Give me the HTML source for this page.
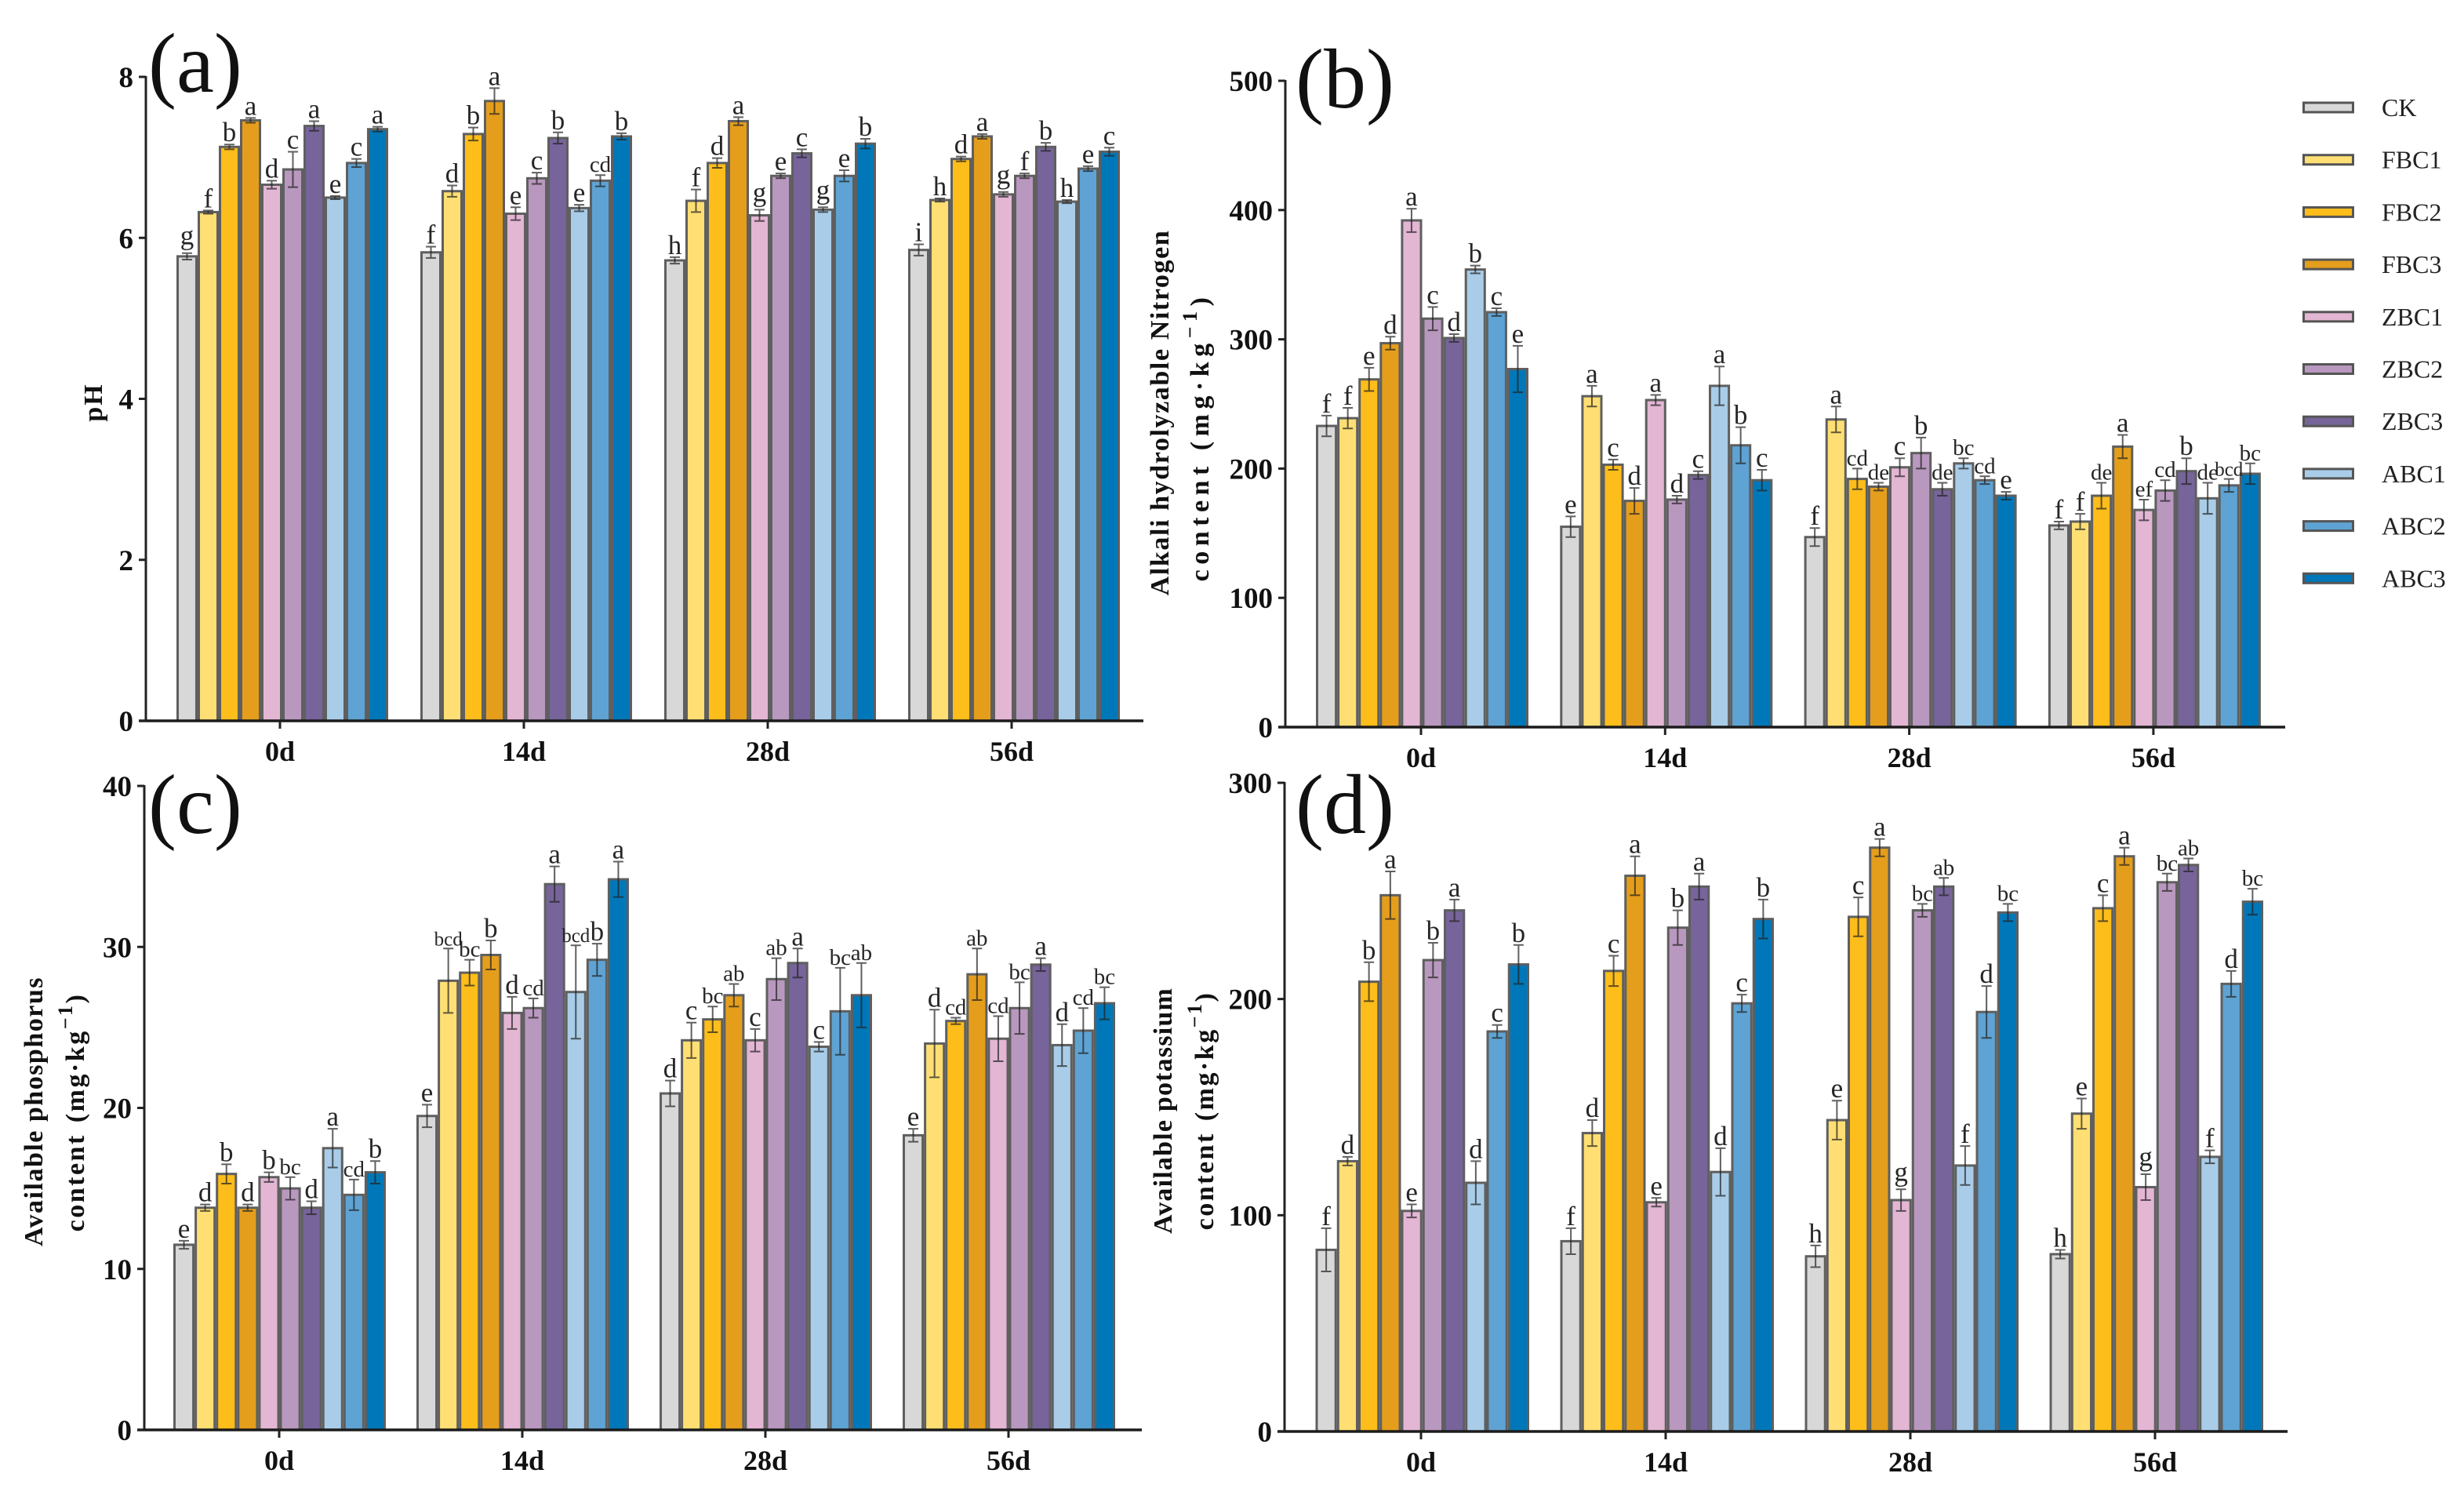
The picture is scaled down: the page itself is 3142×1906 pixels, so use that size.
<!DOCTYPE html>
<html lang="en">
<head>
<meta charset="utf-8">
<title>Soil properties bar charts</title>
<style>
html,body{margin:0;padding:0;background:#fff;}
svg{display:block;font-family:"Liberation Serif",serif;}
</style>
</head>
<body>
<svg id="figure" width="3142" height="1906" viewBox="0 0 3142 1906" xmlns="http://www.w3.org/2000/svg"></svg>
<script>
const days = ["0d", "14d", "28d", "56d"];
const treatments = ["CK", "FBC1", "FBC2", "FBC3", "ZBC1", "ZBC2", "ZBC3", "ABC1", "ABC2", "ABC3"];
const treatmentColors = ["#d8d8d8", "#ffdf73", "#fdbd1a", "#e59e1c", "#e3b6d4", "#b998bf", "#76649a", "#a9cde8", "#5ea3d3", "#0077b8"];

const phTicks = [0, 2, 4, 6, 8];
const phMeans = [
  [5.77, 6.32, 7.13, 7.46, 6.66, 6.85, 7.39, 6.50, 6.93, 7.35],
  [5.82, 6.58, 7.29, 7.70, 6.30, 6.74, 7.24, 6.37, 6.71, 7.26],
  [5.72, 6.46, 6.93, 7.45, 6.28, 6.77, 7.05, 6.35, 6.77, 7.17],
  [5.85, 6.47, 6.98, 7.26, 6.54, 6.77, 7.13, 6.45, 6.86, 7.07]
];
const phErrors = [
  [.04, .02, .03, .03, .05, .22, .06, .02, .05, .03],
  [.07, .07, .08, .16, .08, .07, .07, .04, .07, .04],
  [.04, .14, .06, .05, .07, .03, .05, .03, .07, .06],
  [.07, .02, .03, .03, .03, .03, .05, .02, .03, .05]
];
const phLetters = [
  ["g", "f", "b", "a", "d", "c", "a", "e", "c", "a"],
  ["f", "d", "b", "a", "e", "c", "b", "e", "cd", "b"],
  ["h", "f", "d", "a", "g", "e", "c", "g", "e", "b"],
  ["i", "h", "d", "a", "g", "f", "b", "h", "e", "c"]
];

const nitrogenTicks = [0, 100, 200, 300, 400, 500];
const nitrogenMeans = [
  [233, 239, 269, 297, 392, 316, 301, 354, 321, 277],
  [155, 256, 203, 175, 253, 176, 195, 264, 218, 191],
  [147, 238, 192, 186, 201, 212, 184, 204, 191, 179],
  [156, 159, 179, 217, 168, 183, 198, 177, 187, 196]
];
const nitrogenErrors = [
  [8, 8, 9, 5, 9, 9, 3, 3, 3, 18],
  [8, 8, 4, 10, 4, 3, 3, 15, 14, 8],
  [7, 10, 8, 3, 7, 12, 5, 4, 3, 3],
  [3, 6, 10, 9, 8, 8, 10, 12, 5, 8]
];
const nitrogenLetters = [
  ["f", "f", "e", "d", "a", "c", "d", "b", "c", "e"],
  ["e", "a", "c", "d", "a", "d", "c", "a", "b", "c"],
  ["f", "a", "cd", "de", "c", "b", "de", "bc", "cd", "e"],
  ["f", "f", "de", "a", "ef", "cd", "b", "de", "bcd", "bc"]
];

const phosphorusTicks = [0, 10, 20, 30, 40];
const phosphorusMeans = [
  [11.5, 13.8, 15.9, 13.8, 15.7, 15.0, 13.8, 17.5, 14.6, 16.0],
  [19.5, 27.9, 28.4, 29.5, 25.9, 26.2, 33.9, 27.2, 29.2, 34.2],
  [20.9, 24.2, 25.5, 27.0, 24.2, 28.0, 29.0, 23.8, 26.0, 27.0],
  [18.3, 24.0, 25.4, 28.3, 24.3, 26.2, 28.9, 23.9, 24.8, 26.5]
];
const phosphorusErrors = [
  [.25, .2, .6, .2, .3, .7, .4, 1.2, .95, .7],
  [.7, 2, .8, .9, 1, .6, 1.1, 2.9, 1, 1.1],
  [.8, 1.1, .8, .7, .7, 1.3, .9, .3, 2.7, 2],
  [.4, 2.1, .2, 1.6, 1.4, 1.6, .4, 1.3, 1.4, 1]
];
const phosphorusLetters = [
  ["e", "d", "b", "d", "b", "bc", "d", "a", "cd", "b"],
  ["e", "bcd", "bc", "b", "d", "cd", "a", "bcd", "b", "a"],
  ["d", "c", "bc", "ab", "c", "ab", "a", "c", "bc", "ab"],
  ["e", "d", "cd", "ab", "cd", "bc", "a", "d", "cd", "bc"]
];

const potassiumTicks = [0, 100, 200, 300];
const potassiumMeans = [
  [84, 125, 208, 248, 102, 218, 241, 115, 185, 216],
  [88, 138, 213, 257, 106, 233, 252, 120, 198, 237],
  [81, 144, 238, 270, 107, 241, 252, 123, 194, 240],
  [82, 147, 242, 266, 113, 254, 262, 127, 207, 245]
];
const potassiumErrors = [
  [10, 2, 9, 11, 3, 8, 5, 10, 3, 9],
  [6, 6, 7, 9, 2, 8, 6, 11, 4, 9],
  [5, 9, 9, 4, 5, 3, 4, 9, 12, 4],
  [2, 7, 6, 4, 6, 4, 3, 3, 6, 6]
];
const potassiumLetters = [
  ["f", "d", "b", "a", "e", "b", "a", "d", "c", "b"],
  ["f", "d", "c", "a", "e", "b", "a", "d", "c", "b"],
  ["h", "e", "c", "a", "g", "bc", "ab", "f", "d", "bc"],
  ["h", "e", "c", "a", "g", "bc", "ab", "f", "d", "bc"]
];

const SVG_NS = "http://www.w3.org/2000/svg";
const figure = document.getElementById("figure");

function make(parent, tag, props, text) {
  const node = document.createElementNS(SVG_NS, tag);
  for (const key in props) node.setAttribute(key, props[key]);
  if (text !== undefined) node.textContent = text;
  parent.appendChild(node);
  return node;
}

function drawPanel(cfg) {
  const panel = make(figure, "g", {});
  
  

  const yScale = v => cfg.y0 - (v / cfg.max) * (cfg.y0 - cfg.yTop);
  const xScale = (g, i) => cfg.barStart + g * cfg.pitch + i * cfg.barW;

  cfg.means.forEach((groupValues, g) => {
    groupValues.forEach((value, i) => {
      const bar = make(panel, "rect", {
        x: xScale(g, i) + 1.5,
        y: yScale(value),
        width: cfg.barW - 3,
        height: cfg.y0 - yScale(value),
        fill: treatmentColors[i],
        stroke: "#5f5f5f",
        "stroke-width": 3
      });
      
      
    });
  });

  cfg.means.forEach((groupValues, g) => {
    groupValues.forEach((value, i) => {
      const cx = xScale(g, i) + cfg.barW / 2;
      const top = yScale(value + cfg.errors[g][i]);
      const bottom = yScale(value - cfg.errors[g][i]);
      const err = make(panel, "path", {
        d: "M" + (cx - 6.5) + " " + top + "H" + (cx + 6.5) + "M" + cx + " " + top + "V" + bottom + "M" + (cx - 6.5) + " " + bottom + "H" + (cx + 6.5),
        fill: "none",
        stroke: "#222",
        "stroke-opacity": 0.72,
        "stroke-width": 2
      });
      
      

      const letter = cfg.letters[g][i];
      const size = letter.length === 1 ? 35 : (letter.length === 2 ? 29 : 25);
      const lift = letter === "g" ? 11 : 4;
      const label = make(panel, "text", {
        x: cx,
        y: top - lift,
        "text-anchor": "middle",
        "font-size": size,
        fill: "#262626"
      }, letter);
      
      
    });
  });

  const yAxis = make(panel, "line", {
    x1: cfg.axisX, x2: cfg.axisX, y1: cfg.yTop - 1, y2: cfg.y0,
    stroke: "#222", "stroke-width": 3
  });
  
  

  const xAxis = make(panel, "line", {
    x1: cfg.axisX - 9, x2: cfg.xEnd, y1: cfg.y0, y2: cfg.y0,
    stroke: "#1c1c1c", "stroke-width": 3.5
  });
  
  

  cfg.ticks.forEach(tick => {
    const py = yScale(tick);
    const mark = make(panel, "line", {
      x1: cfg.axisX - 9, x2: cfg.axisX, y1: py, y2: py,
      stroke: "#222", "stroke-width": 3
    });
    
    
    const label = make(panel, "text", {
      x: cfg.axisX - 16,
      y: py + 13,
      "text-anchor": "end",
      "font-size": 37,
      "font-weight": "bold",
      fill: "#111"
    }, String(tick));
    
    
  });

  days.forEach((day, g) => {
    const tx = cfg.barStart + g * cfg.pitch + cfg.tickOffset;
    const mark = make(panel, "line", {
      x1: tx, x2: tx, y1: cfg.y0, y2: cfg.y0 + 10,
      stroke: "#222", "stroke-width": 3
    });
    
    
    const label = make(panel, "text", {
      x: tx,
      y: cfg.y0 + 51,
      "text-anchor": "middle",
      "font-size": 36,
      "font-weight": "bold",
      fill: "#111"
    }, day);
    
    
  });

  const letterTag = make(panel, "text", {
    x: cfg.tagX, y: cfg.tagY, "font-size": 108, fill: "#111"
  }, "(" + cfg.id + ")");
  
  

  cfg.titles.forEach((title, n) => {
    const heading = make(panel, "text", {
      transform: "translate(" + title.x + " " + title.y + ") rotate(-90)",
      "text-anchor": "middle",
      "font-size": 34,
      "font-weight": "bold",
      "letter-spacing": title.spacing,
      fill: "#111"
    });
    
    
    make(heading, "tspan", {}, title.text);
    if (title.unit) {
      make(heading, "tspan", { dx: 14 }, "(mg·kg");
      make(heading, "tspan", { dy: -15, "font-size": 26 }, "−1");
      make(heading, "tspan", { dy: 15 }, ")");
    }
  });
}

drawPanel({
  id: "a", means: phMeans, errors: phErrors, letters: phLetters, ticks: phTicks, max: 8,
  axisX: 186, y0: 919, yTop: 98, barStart: 225, barW: 27, pitch: 311, tickOffset: 132, xEnd: 1458,
  tagX: 189, tagY: 117,
  titles: [{ x: 130, y: 513, text: "pH", spacing: 2 }]
});
drawPanel({
  id: "b", means: nitrogenMeans, errors: nitrogenErrors, letters: nitrogenLetters, ticks: nitrogenTicks, max: 500,
  axisX: 1639, y0: 927, yTop: 103, barStart: 1678, barW: 27.1, pitch: 311.3, tickOffset: 134, xEnd: 2914,
  tagX: 1652, tagY: 137,
  titles: [
    { x: 1490, y: 526, text: "Alkali hydrolyzable Nitrogen", spacing: 1.6 },
    { x: 1541, y: 557, text: "content", spacing: 6.5, unit: true }
  ]
});
drawPanel({
  id: "c", means: phosphorusMeans, errors: phosphorusErrors, letters: phosphorusLetters, ticks: phosphorusTicks, max: 40,
  axisX: 184, y0: 1823, yTop: 1002, barStart: 221, barW: 27.1, pitch: 310, tickOffset: 135, xEnd: 1456,
  tagX: 189, tagY: 1062,
  titles: [
    { x: 54, y: 1417, text: "Available phosphorus", spacing: 1.5 },
    { x: 107, y: 1418, text: "content", spacing: 2.5, unit: true }
  ]
});
drawPanel({
  id: "d", means: potassiumMeans, errors: potassiumErrors, letters: potassiumLetters, ticks: potassiumTicks, max: 300,
  axisX: 1638, y0: 1825, yTop: 998, barStart: 1677.5, barW: 27.25, pitch: 312, tickOffset: 134.5, xEnd: 2917,
  tagX: 1652, tagY: 1062,
  titles: [
    { x: 1494, y: 1416, text: "Available potassium", spacing: 1.2 },
    { x: 1547, y: 1416, text: "content", spacing: 2.5, unit: true }
  ]
});

const legend = make(figure, "g", {});


treatments.forEach((name, i) => {
  const cy = 137 + i * 66.7;
  const swatch = make(legend, "rect", {
    x: 2937.5, y: cy - 6, width: 63, height: 12,
    fill: treatmentColors[i], stroke: "#555", "stroke-width": 3
  });
  
  
  const entry = make(legend, "text", {
    x: 3037, y: cy + 11, "font-size": 32, fill: "#222"
  }, name);
  
  
});
</script>
</body>
</html>
